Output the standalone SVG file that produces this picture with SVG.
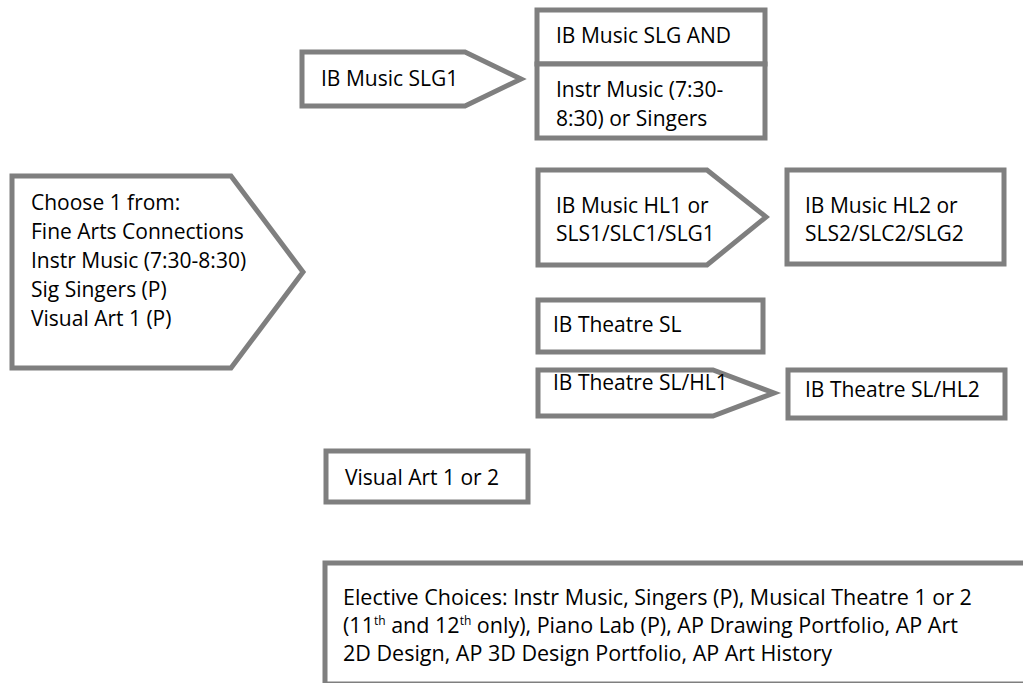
<svg xmlns="http://www.w3.org/2000/svg" width="1023" height="683" viewBox="0 0 1023 683">
<style>
.s{fill:#ffffff;stroke:#7f7f7f;stroke-width:5;stroke-linejoin:miter}
.t{font-family:"Open Sans",Lato,"Liberation Sans",sans-serif;font-size:21px;fill:#000}
.e{font-size:21.5px}
.sup{font-size:12px}
</style>
<rect width="1023" height="683" fill="#ffffff"/>
<g id="connectors"></g>
<g id="choose">
<polygon class="s" points="12,176 231,176 303,272 231,368 12,368"/>
<text class="t" x="31" y="210">Choose 1 from:</text>
<text class="t" x="31" y="239">Fine Arts Connections</text>
<text class="t" x="31" y="268">Instr Music (7:30-8:30)</text>
<text class="t" x="31" y="297">Sig Singers (P)</text>
<text class="t" x="31" y="326">Visual Art 1 (P)</text>
</g>
<g id="slg1">
<polygon class="s" points="302,52 465,52 521,79 465,106 302,106"/>
<text class="t" x="321" y="86">IB Music SLG1</text>
</g>
<g id="slgand">
<rect class="s" x="537" y="10" width="228" height="54"/>
<text class="t" x="556" y="43">IB Music SLG AND</text>
</g>
<g id="instr">
<rect class="s" x="537" y="64" width="228" height="74"/>
<text class="t" x="556" y="97">Instr Music (7:30-</text>
<text class="t" x="556" y="126">8:30) or Singers</text>
</g>
<g id="hl1">
<polygon class="s" points="538,170 707,170 766,217 707,265 538,265"/>
<text class="t" x="556" y="213">IB Music HL1 or</text>
<text class="t" x="556" y="241">SLS1/SLC1/SLG1</text>
</g>
<g id="hl2">
<rect class="s" x="787" y="170" width="217" height="94"/>
<text class="t" x="805" y="213">IB Music HL2 or</text>
<text class="t" x="805" y="241">SLS2/SLC2/SLG2</text>
</g>
<g id="theatresl">
<rect class="s" x="538" y="300" width="225" height="52"/>
<text class="t" x="553" y="332">IB Theatre SL</text>
</g>
<g id="theatrehl1">
<polygon class="s" points="538,370 713,370 774,393 713,416 538,416"/>
<text class="t" x="553" y="390">IB Theatre SL/HL1</text>
</g>
<g id="theatrehl2">
<rect class="s" x="788" y="370" width="217" height="48"/>
<text class="t" x="805" y="397">IB Theatre SL/HL2</text>
</g>
<g id="visual">
<rect class="s" x="326" y="451" width="202" height="51"/>
<text class="t" x="345" y="485">Visual Art 1 or 2</text>
</g>
<g id="elective">
<rect class="s" x="325" y="563" width="710" height="121"/>
<text class="t e" x="343" y="605">Elective Choices: Instr Music, Singers (P), Musical Theatre 1 or 2</text>
<text class="t e" x="343" y="633">(11<tspan class="sup" dy="-8">th</tspan><tspan dy="8"> and 12</tspan><tspan class="sup" dy="-8">th</tspan><tspan dy="8"> only), Piano Lab (P), AP Drawing Portfolio, AP Art</tspan></text>
<text class="t e" x="343" y="661">2D Design, AP 3D Design Portfolio, AP Art History</text>
</g>
</svg>
